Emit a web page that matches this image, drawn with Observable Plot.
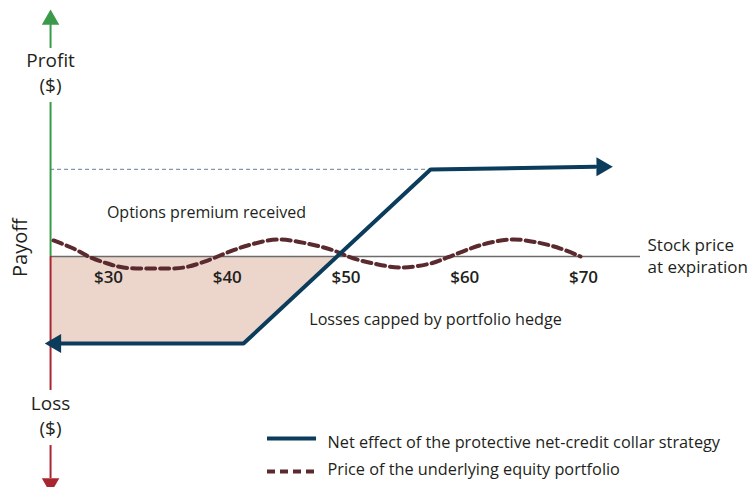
<!DOCTYPE html>
<html><head><meta charset="utf-8">
<script src="https://cdn.jsdelivr.net/npm/d3@7"></script>
<script src="https://cdn.jsdelivr.net/npm/@observablehq/plot@0.6"></script>
<style>body{margin:0;background:#fff}#chart{width:750px;height:487px}</style>
</head><body><div id="chart"></div>
<script>
// Tick labels (stock price at expiration)
const tickValues = [30, 40, 50, 60, 70];
const tickLabels = ["$30", "$40", "$50", "$60", "$70"];
// Net effect of collar (payoff vs stock price)
const collarPrice = [25.7, 41.37, 57.12, 71.0];
const collarPayoff = [-7.33, -7.33, 7.33, 7.56];
// Loss area (below zero, up to the break-even)
const lossPrice = [25.12, 41.37, 49.2];
const lossPayoff = [-7.33, -7.33, 0];
// Price of the underlying equity portfolio (wavy dashed)
const wavePrice = [25.37, 27.05, 28.48, 29.92, 31.26, 33.79, 36.32, 38.34, 40.02, 41.71, 44.23, 46.76, 48.95, 50.38, 52.32, 54.59, 57.12, 58.55, 60.48, 62.17, 64.11, 66.13, 68.06, 69.75];
const waveValue = [1.35, 0.67, -0.08, -0.59, -0.93, -1.01, -0.93, -0.34, 0.34, 0.93, 1.43, 1.09, 0.51, -0.08, -0.59, -0.93, -0.59, -0.08, 0.67, 1.18, 1.43, 1.18, 0.67, 0];
// Premium level and axis extents
const premiumLevel = 7.33;
const axisStart = 25.12, axisEnd = 74.8;
const legendLabels = ["Net effect of the protective net-credit collar strategy", "Price of the underlying equity portfolio"];

const NAVY = "#0b3c5c", MAROON = "#5b2a2e", GREEN = "#3a9a4a", RED = "#a8262f", TXT = "#231f20";
const FONT = "'Open Sans', Lato, sans-serif";

const collar = collarPrice.map((p, i) => ({p, v: collarPayoff[i]}));
const loss = lossPrice.map((p, i) => ({p, v: lossPayoff[i]}));
const wave = wavePrice.map((p, i) => ({p, v: waveValue[i]}));
const ticks = tickValues.map((p, i) => ({p, label: tickLabels[i]}));

const plot = Plot.plot({
  width: 750, height: 487,
  margin: 0,
  x: {domain: [30, 70], range: [108, 583], axis: null},
  y: {domain: [-20, 20], range: [493.5, 18.5], axis: null},
  style: {fontFamily: FONT, background: "#fff", overflow: "visible"},
  marks: [
    Plot.areaY(loss, {x: "p", y1: "v", y2: 0, fill: "#ecd6cc"}),
    // horizontal axis
    Plot.ruleY([0], {x1: axisStart, x2: axisEnd, stroke: "#6b6b6b", strokeWidth: 1.6}),
    // premium level dashed
    Plot.ruleY([premiumLevel], {x1: axisStart, x2: collarPrice[2], stroke: "#7d9ab4", strokeWidth: 1.2, strokeDasharray: "4,3"}),
    // vertical axis (green above, red below)
    Plot.ruleX([axisStart], {y1: 0, y2: 12.97, stroke: GREEN, strokeWidth: 2}),
    Plot.ruleX([axisStart], {y1: 17.52, y2: 19.6, stroke: GREEN, strokeWidth: 2}),
    Plot.ruleX([axisStart], {y1: 0, y2: -11.28, stroke: RED, strokeWidth: 2}),
    Plot.ruleX([axisStart], {y1: -15.92, y2: -18.7, stroke: RED, strokeWidth: 2}),
    Plot.dot([{p: axisStart, v: 19.95}], {x: "p", y: "v", symbol: "triangle", r: 6.5, fill: GREEN, stroke: null}),
    Plot.dot([{p: axisStart, v: -19.1}], {x: "p", y: "v", symbol: "triangle", r: 6.5, fill: RED, stroke: null, rotate: 180}),
    // wave
    Plot.line(wave, {x: "p", y: "v", curve: "catmull-rom", stroke: MAROON, strokeWidth: 4, strokeDasharray: "9,5"}),
    // collar
    Plot.line(collar, {x: "p", y: "v", stroke: NAVY, strokeWidth: 4, strokeLinejoin: "miter"}),
    Plot.dot([{p: 71.55, v: 7.56}], {x: "p", y: "v", symbol: "triangle", r: 7, fill: NAVY, stroke: null, rotate: 90}),
    Plot.dot([{p: 25.55, v: -7.33}], {x: "p", y: "v", symbol: "triangle", r: 7, fill: NAVY, stroke: null, rotate: -90}),
    // tick labels
    Plot.text(ticks, {x: "p", y: -1.77, text: "label", fontSize: 17, fill: TXT, fontWeight: 600}),
    // axis labels
    Plot.text(["Profit", "($)"], {x: axisStart, y: [16.5, 14.4], text: d => d, fontSize: 19, fill: TXT}),
    Plot.text(["Loss", "($)"], {x: axisStart, y: [-12.38, -14.5], text: d => d, fontSize: 19, fill: TXT}),
    Plot.text(["Payoff"], {x: 22.6, y: 0.75, text: d => d, fontSize: 20, fill: TXT, rotate: -90}),
    Plot.text(["Stock price", "at expiration"], {x: 75.39, y: [0.93, -0.93], text: d => d, fontSize: 17, fill: TXT, textAnchor: "start"}),
    Plot.text(["Options premium received"], {x: 38.25, y: 3.7, text: d => d, fontSize: 16, fill: TXT}),
    Plot.text(["Losses capped by portfolio hedge"], {x: 57.54, y: -5.3, text: d => d, fontSize: 16.2, fill: TXT}),
    // legend
    Plot.ruleY([-15.33], {x1: 43.39, x2: 47.52, stroke: NAVY, strokeWidth: 4}),
    Plot.ruleY([-18.1], {x1: 43.39, x2: 47.52, stroke: MAROON, strokeWidth: 4, strokeDasharray: "8,5"}),
    Plot.text(legendLabels, {x: 48.44, y: [-15.66, -17.94], text: d => d, fontSize: 16.3, fill: TXT, textAnchor: "start"})
  ]
});
document.getElementById("chart").appendChild(plot);
</script></body></html>
